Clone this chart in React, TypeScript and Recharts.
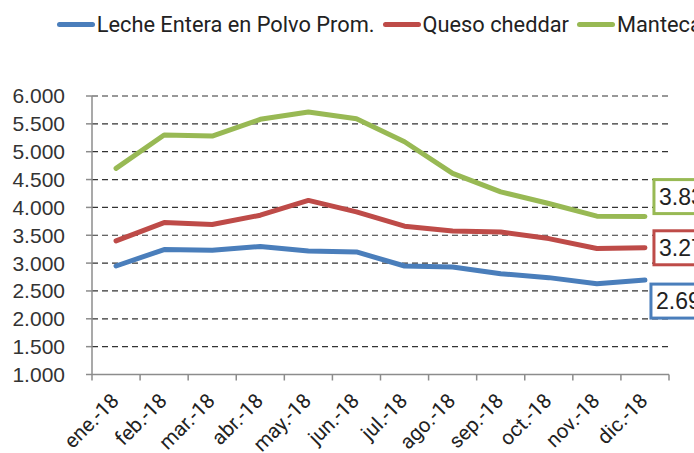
import React from "react";
import { LineChart, Line, XAxis, YAxis, CartesianGrid } from "recharts";

const MONTHS = ["ene.-18", "feb.-18", "mar.-18", "abr.-18", "may.-18", "jun.-18", "jul.-18", "ago.-18", "sep.-18", "oct.-18", "nov.-18", "dic.-18"];
const LECHE = [2948, 3243, 3230, 3300, 3218, 3200, 2948, 2930, 2810, 2739, 2631, 2695];
const QUESO = [3398, 3728, 3692, 3860, 4125, 3919, 3662, 3577, 3559, 3440, 3261, 3275];
const MANTECA = [4700, 5299, 5280, 5581, 5712, 5590, 5178, 4610, 4279, 4070, 3842, 3835];
const Y_TICKS = [1000, 1500, 2000, 2500, 3000, 3500, 4000, 4500, 5000, 5500, 6000];
const SERIES_NAMES = ["Leche Entera en Polvo Prom.", "Queso cheddar", "Manteca"];

const BLUE = "#4a7ebb";
const RED = "#be4b48";
const GREEN = "#98b954";
const COLORS = [BLUE, RED, GREEN];

const CHART_W = 760;
const CHART_H = 445;
const MARGIN = { top: 88, right: 99, bottom: 0, left: 0 };
const Y_W = 84;
const PLOT_W = CHART_W - MARGIN.right - MARGIN.left - Y_W;
const HALF = PLOT_W / MONTHS.length / 2;
const LAST = MONTHS.length - 1;

const rows = MONTHS.map((m, i) => ({
  x: i + 0.5,
  month: m,
  leche: LECHE[i],
  queso: QUESO[i],
  manteca: MANTECA[i],
}));

const fmt = (v: number) => v.toLocaleString("de-DE");

const MonthTick = (props: any) => {
  const { x, y, payload } = props;
  const i = payload.value;
  if (i >= MONTHS.length) return <g />;
  const ax = x + HALF + 4;
  const ay = y + 21.5;
  return (
    <text
      x={ax}
      y={ay}
      transform={`rotate(-45 ${ax} ${ay})`}
      textAnchor="end"
      fontFamily="Roboto"
      fontSize={20.5}
      fill="#222"
    >
      {MONTHS[i]}
    </text>
  );
};

const boxLabel = (color: string, dx: number, dy: number) => (p: any) => {
  if (p.index !== LAST) return <g key={`l-${p.index}`} />;
  const bx = p.x + dx;
  const cy = p.y + dy;
  return (
    <g key={`l-${p.index}`}>
      <rect x={bx} y={cy - 17} width={80} height={34} fill="#fff" stroke={color} strokeWidth={3} />
      <text x={bx + 5} y={cy + 8} fontFamily="Liberation Sans" fontSize={23} fill="#222">
        {fmt(p.value)}
      </text>
    </g>
  );
};

export default function App() {
  return (
    <div style={{ position: "relative", width: 694, height: 453, overflow: "hidden" }}>
      <style>{"body{margin:0}"}</style>
      <div
        style={{
          position: "absolute",
          left: 56.7,
          top: 14,
          display: "flex",
          gap: 8,
          whiteSpace: "nowrap",
          fontFamily: "Roboto",
          fontSize: 21.8,
          lineHeight: "21px",
          color: "#222",
          zIndex: 2,
        }}
      >
        {SERIES_NAMES.map((n, i) => (
          <div key={n} style={{ display: "flex", alignItems: "center" }}>
            <span
              style={{
                display: "inline-block",
                width: 38,
                height: 5.5,
                borderRadius: 3,
                background: COLORS[i],
                marginRight: 2,
              }}
            />
            <span>{n}</span>
          </div>
        ))}
      </div>
      <div style={{ position: "absolute", left: 8, top: 8 }}>
        <LineChart width={CHART_W} height={CHART_H} data={rows} margin={MARGIN}>
          <CartesianGrid vertical={false} stroke="#333" strokeDasharray="6 4" strokeWidth={1.2} />
          <XAxis
            dataKey="x"
            type="number"
            domain={[0, MONTHS.length]}
            ticks={MONTHS.map((_, i) => i).concat([MONTHS.length])}
            interval={0}
            height={78.5}
            tickSize={6}
            tickMargin={0}
            tick={<MonthTick />}
            axisLine={{ stroke: "#8c8c8c", strokeWidth: 1.5 }}
            tickLine={{ stroke: "#8c8c8c", strokeWidth: 1.5 }}
          />
          <YAxis
            width={Y_W}
            domain={[1000, 6000]}
            ticks={Y_TICKS}
            interval={0}
            tickSize={6}
            tickMargin={21}
            tickFormatter={fmt}
            tick={{ fontFamily: "Liberation Sans", fontSize: 21, fill: "#333" }}
            axisLine={{ stroke: "#8c8c8c", strokeWidth: 1.5 }}
            tickLine={{ stroke: "#8c8c8c", strokeWidth: 1.5 }}
          />
          <Line
            dataKey="leche"
            stroke={BLUE}
            strokeWidth={5}
            strokeLinecap="round"
            strokeLinejoin="round"
            dot={false}
            isAnimationActive={false}
            label={boxLabel(BLUE, 6, 21)}
          />
          <Line
            dataKey="queso"
            stroke={RED}
            strokeWidth={5}
            strokeLinecap="round"
            strokeLinejoin="round"
            dot={false}
            isAnimationActive={false}
            label={boxLabel(RED, 9, 0)}
          />
          <Line
            dataKey="manteca"
            stroke={GREEN}
            strokeWidth={5}
            strokeLinecap="round"
            strokeLinejoin="round"
            dot={false}
            isAnimationActive={false}
            label={boxLabel(GREEN, 9, -20)}
          />
        </LineChart>
      </div>
    </div>
  );
}
